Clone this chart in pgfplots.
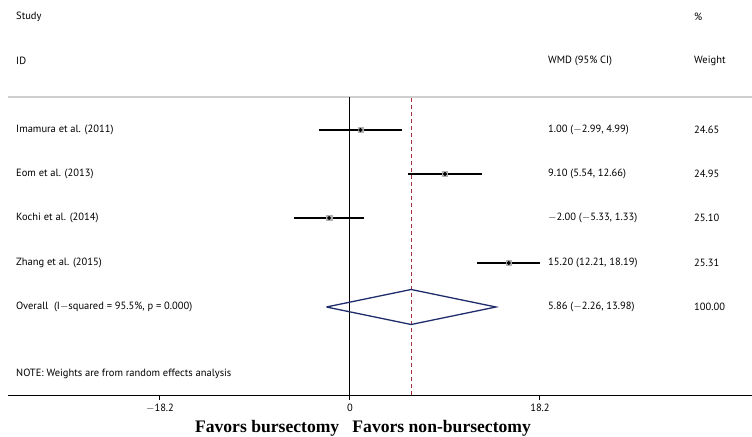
\documentclass[border=0pt]{standalone}
\usepackage{pgfplots}
\pgfplotsset{compat=1.18}
\usepackage{fontspec}
\setmainfont{PT Sans}
\newfontfamily\serifbold{Liberation Serif}
\definecolor{navy}{HTML}{1F2C6B}
\definecolor{dred}{HTML}{A3303F}
\definecolor{lgray}{HTML}{CFCFCF}
\definecolor{mgray}{HTML}{B0B0B0}
\begin{document}
\begin{tikzpicture}
\begin{axis}[
  scale only axis, width=744bp, height=395bp,
  xmin=-32.76, xmax=38.51, ymin=0, ymax=395,
  axis x line=bottom, axis y line=none,
  axis line style={black, line width=1pt, -},
  xtick={-18.2,0,18.2},
  xticklabels={$-$18.2,0,18.2},
  x tick label style={font=\fontsize{10.5bp}{12bp}\selectfont, yshift=-1bp},
  tick style={black, line width=1pt},
  xtick align=outside, major tick length=5bp,
  clip=false,
]
% header line and reference lines
\addplot[lgray, line width=1.5pt] coordinates {(-32.76,298) (38.51,298)};
\addplot[black, line width=1pt] coordinates {(0,0) (0,298)};
\addplot[dred, line width=1.2pt, dash pattern=on 4pt off 3pt] coordinates {(5.86,0) (5.86,298)};
% confidence intervals
\addplot[black, line width=1.4pt] coordinates {(-2.99,265) (4.99,265)};
\addplot[black, line width=1.4pt] coordinates {(5.54,221) (12.66,221)};
\addplot[black, line width=1.4pt] coordinates {(-5.33,177) (1.33,177)};
\addplot[black, line width=1.4pt] coordinates {(12.21,132) (18.19,132)};
% weight boxes and point estimates
\addplot[only marks, mark=square*, mark size=2.6bp, mgray, mark options={draw=mgray, fill=mgray}] coordinates {(1.00,265) (9.10,221) (-2.00,177) (15.20,132)};
\addplot[only marks, mark=*, mark size=1.8bp, black] coordinates {(1.00,265) (9.10,221) (-2.00,177) (15.20,132)};
% overall diamond
\addplot[navy, line width=1.3pt] coordinates {(-2.26,88) (5.86,105.5) (13.98,88) (5.86,70.5) (-2.26,88)};
\end{axis}
\begin{scope}[every node/.style={anchor=west, inner sep=0pt, font=\fontsize{10.5bp}{12bp}\selectfont}]
\node at (8bp,378bp) {Study};
\node at (8bp,334bp) {ID};
\node at (8bp,265bp) {Imamura et al. (2011)};
\node at (8bp,221bp) {Eom et al. (2013)};
\node at (8bp,177bp) {Kochi et al. (2014)};
\node at (8bp,132bp) {Zhang et al. (2015)};
\node at (8bp,88bp) {Overall\ \ (I$-$squared = 95.5\%, p = 0.000)};
\node at (8bp,21bp) {NOTE: Weights are from random effects analysis};
\node at (540bp,334bp) {WMD (95\% CI)};
\node at (540bp,265bp) {1.00 ($-$2.99, 4.99)};
\node at (540bp,221bp) {9.10 (5.54, 12.66)};
\node at (540bp,177bp) {$-$2.00 ($-$5.33, 1.33)};
\node at (540bp,132bp) {15.20 (12.21, 18.19)};
\node at (540bp,88bp) {5.86 ($-$2.26, 13.98)};
\node at (686bp,378bp) {\%};
\node at (686bp,334bp) {Weight};
\node at (686bp,265bp) {24.65};
\node at (686bp,221bp) {24.95};
\node at (686bp,177bp) {25.10};
\node at (686bp,132bp) {25.31};
\node at (686bp,88bp) {100.00};
\end{scope}
\node[anchor=center, inner sep=0pt, font=\serifbold\bfseries\fontsize{17.6bp}{19bp}\selectfont] at (355bp,-33bp) {Favors bursectomy\ \ \ Favors non-bursectomy};
\pgfresetboundingbox
\path (-8bp,-42bp) rectangle (744bp,395bp);
\end{tikzpicture}
\end{document}
